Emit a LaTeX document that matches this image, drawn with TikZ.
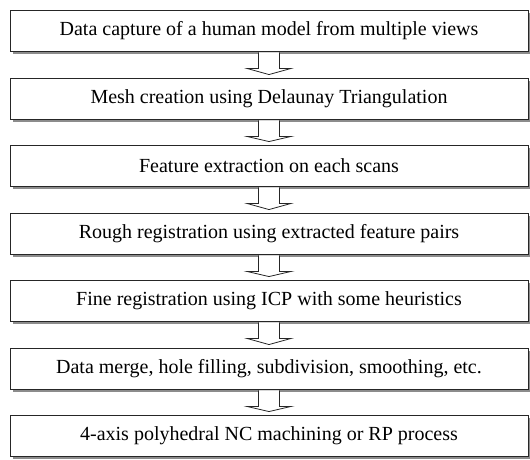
\documentclass[tikz,border=0pt]{standalone}
\usepackage{fontspec}
\setmainfont{Liberation Serif}
\usetikzlibrary{calc,shadows}

\tikzset{
  stage/.style={draw=black!85, line width=0.9pt, fill=white, minimum width=518pt, minimum height=41pt,
    inner sep=0pt, font=\fontsize{20}{22}\selectfont,
    drop shadow={shadow xshift=2.5pt, shadow yshift=-3pt, fill=black!45, opacity=1}},
  blockarrow/.style={draw=black!85, line width=0.8pt, fill=white}
}

\begin{document}
\begin{tikzpicture}[x=1pt,y=-1pt]
\useasboundingbox (0,0) rectangle (530,459);

\node[stage] (capture) at (269,30.5) {Data capture of a human model from multiple views};
\node[stage] (mesh) at (269,98.5) {Mesh creation using Delaunay Triangulation};
\node[stage] (feature) at (269,165.5) {Feature extraction on each scans};
\node[stage] (rough) at (269,233.5) {Rough registration using extracted feature pairs};
\node[stage] (fine) at (269,300.5) {Fine registration using ICP with some heuristics};
\node[stage] (merge) at (269,368.5) {Data merge, hole filling, subdivision, smoothing, etc.};
\node[stage, drop shadow={opacity=0}] (machining) at (269,435.5) {4-axis polyhedral NC machining or RP process};

\draw[blockarrow] ($(capture.south)+(-10.5,1)$) -- ++(0,16) -- ++(-11.5,0) -- ($(mesh.north)+(0,-3)$) -- ($(capture.south)+(22,17)$) -- ++(-11.5,0) -- ($(capture.south)+(10.5,1)$);
\draw[blockarrow] ($(mesh.south)+(-10.5,1)$) -- ++(0,16) -- ++(-11.5,0) -- ($(feature.north)+(0,-3)$) -- ($(mesh.south)+(22,17)$) -- ++(-11.5,0) -- ($(mesh.south)+(10.5,1)$);
\draw[blockarrow] ($(feature.south)+(-10.5,1)$) -- ++(0,16) -- ++(-11.5,0) -- ($(rough.north)+(0,-3)$) -- ($(feature.south)+(22,17)$) -- ++(-11.5,0) -- ($(feature.south)+(10.5,1)$);
\draw[blockarrow] ($(rough.south)+(-10.5,1)$) -- ++(0,16) -- ++(-11.5,0) -- ($(fine.north)+(0,-3)$) -- ($(rough.south)+(22,17)$) -- ++(-11.5,0) -- ($(rough.south)+(10.5,1)$);
\draw[blockarrow] ($(fine.south)+(-10.5,1)$) -- ++(0,16) -- ++(-11.5,0) -- ($(merge.north)+(0,-3)$) -- ($(fine.south)+(22,17)$) -- ++(-11.5,0) -- ($(fine.south)+(10.5,1)$);
\draw[blockarrow] ($(merge.south)+(-10.5,1)$) -- ++(0,16) -- ++(-11.5,0) -- ($(machining.north)+(0,-3)$) -- ($(merge.south)+(22,17)$) -- ++(-11.5,0) -- ($(merge.south)+(10.5,1)$);

\end{tikzpicture}
\end{document}
